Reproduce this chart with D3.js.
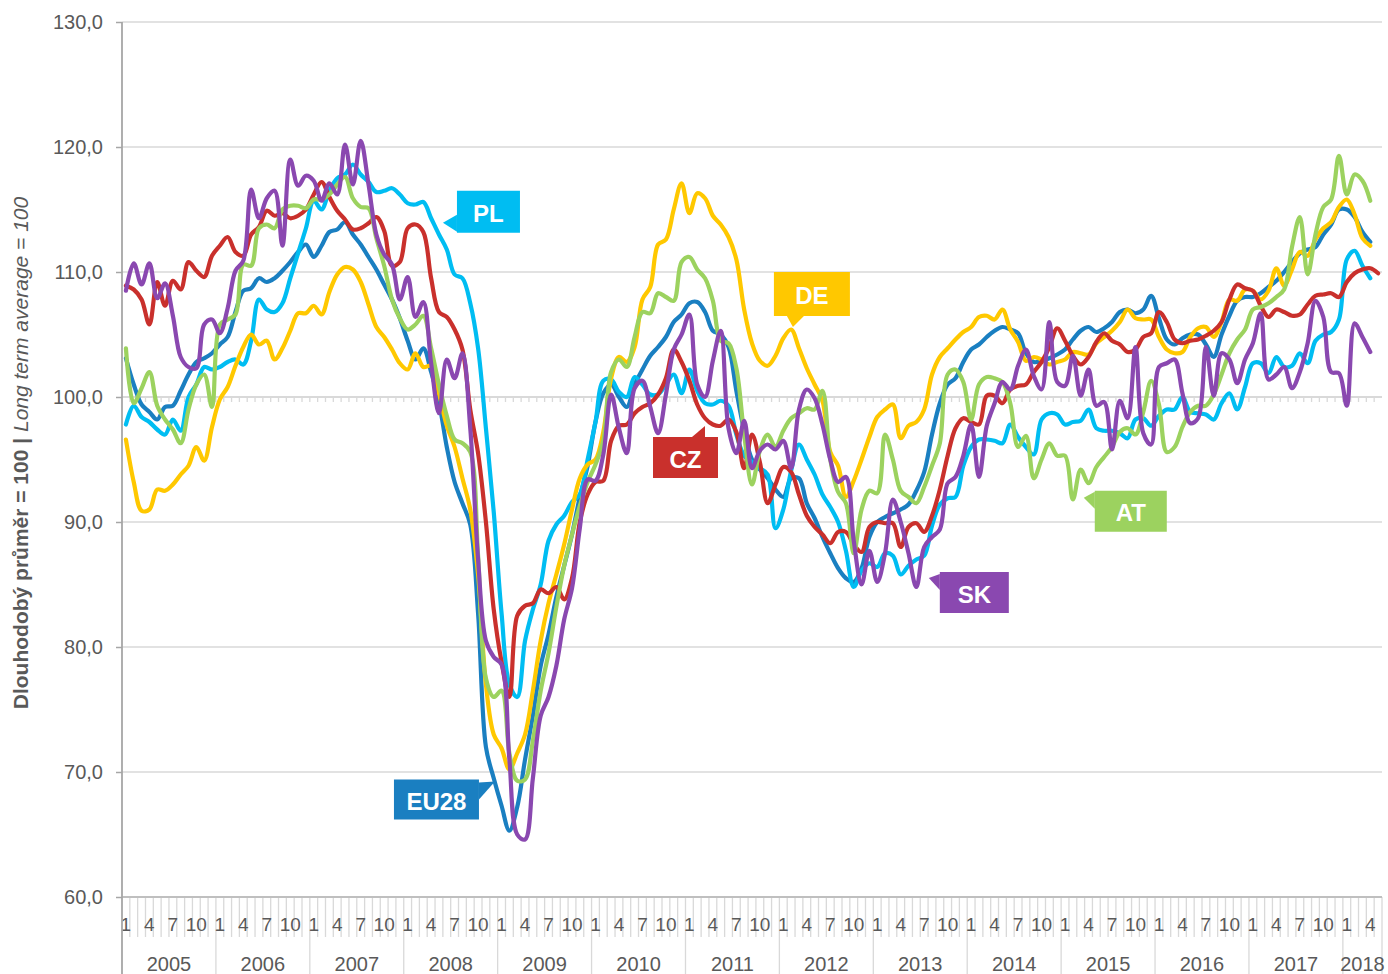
<!DOCTYPE html>
<html>
<head>
    <meta charset="utf-8" />
    <title>Dlouhodobý průměr</title>
    <script src="https://cdn.jsdelivr.net/npm/d3@7"></script>
    <style>
        body { margin: 0; background: #fff; }
        svg { display: block; font-family: "Liberation Sans", Arial, sans-serif; }
    </style>
</head>
<body>
    <svg id="chart" width="1388" height="974"></svg>
    <script>
        // category axis runs Jan 2005 .. May 2018, data Jan 2005 .. Apr 2018 (CZ to May 2018)
        const years = [2005, 2006, 2007, 2008, 2009, 2010, 2011, 2012, 2013, 2014, 2015, 2016, 2017, 2018];
        const lastMonth2018 = 5;
        const monthLabels = [1, 4, 7, 10];
        const yTicks = [60, 70, 80, 90, 100, 110, 120, 130];

        const eu28 = [
            103.1, 101.0, 99.4, 98.8, 98.2, 99.2, 99.3, 100.5, 101.8, 102.8, 103.1, 103.5,
            104.2, 104.8, 106.8, 108.5, 108.7, 109.5, 109.2, 109.5, 110.1, 110.8, 111.6, 112.2,
            111.2, 112.1, 113.2, 113.4, 114.0, 113.0, 112.2, 111.2, 110.2, 109.0, 107.8, 106.3,
            104.5, 103.0, 103.9, 102.0, 99.6, 96.0, 93.2, 91.5, 89.8, 82.7, 72.0, 69.5,
            67.3, 65.3, 67.2, 71.0, 74.5, 78.5, 81.0, 84.0, 86.5, 89.0, 92.0, 94.5,
            98.0, 100.3, 101.0, 100.0, 99.2, 101.0, 102.2, 103.3, 104.0, 104.8, 106.0, 106.6,
            107.5, 107.6, 106.8, 105.3, 105.0, 104.0, 100.5, 97.3, 95.0, 94.2, 93.5, 92.6, 92.0,
            93.5, 93.5, 91.5, 90.3, 88.8, 87.5, 86.3, 85.5, 85.2, 86.3, 88.8, 90.0,
            90.4, 90.7, 91.0, 91.4, 92.5, 94.0, 97.0, 99.5, 101.0, 101.5, 102.8, 103.8,
            104.2, 104.8, 105.3, 105.6, 105.4, 105.1, 103.5, 102.8, 102.9, 103.1, 103.4, 103.8,
            104.6, 105.3, 105.6, 105.2, 105.5, 106.0, 106.8, 107.0, 106.7, 107.0, 108.1, 106.3,
            104.6, 104.2, 104.7, 105.0, 105.0, 104.2, 103.2, 105.0, 106.5, 107.7, 108.0, 108.0,
            108.3, 108.8, 109.3, 110.0, 110.8, 111.5, 111.8, 112.0, 113.0, 113.8, 115.0, 115.0,
            114.4, 113.2, 112.4
        ];
        const pl = [
            97.8, 99.3, 98.4, 98.0, 97.4, 97.0, 98.2, 97.3, 100.0, 101.0, 102.4, 102.2,
            102.4, 102.8, 103.0, 102.6, 104.5, 107.8, 107.0, 106.8, 107.5, 109.5, 111.5, 113.5,
            115.7, 115.0, 116.5, 117.5, 117.8, 118.6, 117.8, 117.2, 116.4, 116.5, 116.7, 116.2,
            115.5, 115.4, 115.6, 114.3, 113.0, 111.8, 109.8, 109.5, 107.5, 103.9, 97.5, 90.8,
            82.7, 77.0, 76.0, 80.5, 83.0, 85.0, 88.5, 89.8, 90.5, 91.6, 92.2, 95.0,
            98.0, 101.3, 101.4, 100.4, 100.0, 101.6, 101.0, 100.2, 100.2, 101.0, 101.8, 100.3,
            102.2, 100.5, 99.5, 99.4, 99.7, 99.3, 97.0, 95.3, 94.8, 94.3, 93.8, 89.5, 91.0,
            94.1, 96.2, 95.0, 93.8, 92.2, 91.2, 90.0, 87.7, 84.8, 86.1, 86.7, 86.4,
            87.5, 87.3, 85.8, 86.5, 87.0, 87.3, 89.7, 91.4, 91.9, 92.0, 94.5, 96.0,
            96.6, 96.6, 96.5, 96.3, 97.8, 96.8, 96.0, 95.4, 98.2, 98.7, 98.6, 97.8,
            98.0, 98.1, 99.0, 97.5, 97.3, 97.3, 97.1, 96.7, 98.2, 98.3, 97.7, 98.5,
            99.0, 99.0, 100.0, 98.8, 98.7, 98.6, 98.2, 99.5, 100.3, 99.0, 100.8, 102.7,
            102.7, 101.9, 103.2, 102.4, 102.5, 103.5, 102.7, 104.5, 105.0, 105.2, 106.2, 111.0,
            111.7, 110.5, 109.5
        ];
        const de = [
            96.6, 93.2, 90.9, 91.0, 92.6, 92.5, 93.0, 93.8, 94.5, 96.0, 94.9, 97.6,
            99.8, 100.8, 102.5, 104.0, 105.0, 104.2, 104.5, 103.0, 103.9, 105.3, 106.7, 106.7,
            107.3, 106.6, 108.4, 109.8, 110.4, 110.2, 109.2, 107.4, 105.6, 104.8, 103.8, 102.7,
            102.2, 103.5, 102.4, 102.5, 100.3, 97.7, 96.0, 93.5, 91.0, 85.8, 77.0, 73.0,
            71.9, 70.2, 71.5, 73.0, 76.5, 80.5, 83.5, 85.8, 88.2, 91.0, 93.5, 94.6,
            95.0, 97.2, 101.5, 103.2, 102.8, 104.0, 107.8, 108.8, 112.2, 112.6, 115.0, 117.1,
            114.7, 116.3, 115.9, 114.5, 113.8, 112.8, 111.0, 107.0, 104.3, 102.9, 102.5, 103.3,
            104.7, 105.4, 103.9, 102.3, 101.0, 99.7, 95.6, 94.5, 92.0, 93.3, 95.0, 96.8,
            98.4, 99.0, 99.4, 96.7, 97.7, 98.0, 99.0, 101.8, 103.2, 103.9, 104.6, 105.2,
            105.6, 106.4, 106.5, 106.2, 107.0, 105.4, 104.4, 102.9, 103.2, 103.0, 102.6, 102.8,
            103.0, 103.6, 103.5, 103.4, 104.3, 104.8, 105.3, 106.0, 107.0, 106.3, 106.2, 106.2,
            104.8, 103.8, 103.5, 103.6, 104.8, 105.5, 105.6, 104.8, 106.0, 107.8, 107.7, 108.6,
            108.5, 107.8, 108.5, 110.3, 108.9, 110.2, 111.6, 111.3, 112.6, 113.5, 114.0, 115.2,
            115.8, 114.6, 112.7, 112.1
        ];
        const cz = [
            108.9, 108.6, 107.8, 105.8, 109.2, 107.3, 109.3, 108.6, 110.8, 110.1, 109.6, 111.3,
            112.1, 112.8, 111.6, 111.3, 113.0, 113.6, 114.9, 114.5, 114.7, 114.3, 114.5, 115.0,
            116.2, 117.2, 116.0, 114.9, 114.2, 113.4, 113.5, 113.9, 114.4, 113.3, 110.5, 110.8,
            113.5, 113.8, 113.2, 109.5, 106.8, 106.4, 105.4, 103.8, 99.0, 95.5, 90.0, 83.0,
            78.8, 76.0, 82.5, 83.3, 83.5, 84.6, 84.3, 84.8, 83.8, 85.5, 90.0, 92.2,
            93.2, 93.3, 96.5, 97.7, 97.8, 98.7, 99.2, 99.5, 100.2, 101.5, 103.8, 102.8,
            101.3, 99.4, 98.3, 97.8, 97.7, 98.2, 97.2, 94.3, 97.0, 94.8, 91.5, 93.0,
            94.4, 94.0, 92.2, 90.5, 89.6, 89.0, 88.3, 89.2, 89.2, 88.2, 87.6, 89.6, 90.0,
            89.9, 89.9, 88.0, 89.6, 89.9, 89.2, 90.5, 92.6, 95.3, 97.5, 98.3, 98.0,
            97.8, 100.1, 100.1, 99.5, 100.6, 100.9, 101.0, 102.0, 102.8, 104.0, 105.5, 104.5,
            103.3, 102.6, 103.2, 104.4, 105.1, 104.5, 104.2, 103.6, 103.8, 104.8, 105.1, 106.8,
            106.0, 104.6, 104.3, 104.5, 104.6, 104.9, 105.3, 106.0, 107.8, 109.0, 108.7, 108.5,
            107.3, 106.4, 107.0, 106.8, 106.5, 106.6, 107.4, 108.1, 108.2, 108.3, 108.0, 109.2,
            109.9, 110.2, 110.3, 109.9
        ];
        const at = [
            103.9, 99.5, 100.7, 102.0, 99.3, 98.2, 97.4, 96.3, 99.0, 101.0, 101.8, 99.2,
            105.8, 106.2, 106.6, 110.6, 110.5, 113.5, 113.8, 113.5, 115.0, 115.3, 115.3, 115.1,
            115.8, 115.8, 116.2, 117.0, 117.6, 115.9, 115.2, 115.1, 112.7, 110.5, 107.8, 106.3,
            105.4, 105.8, 106.5, 103.9, 101.0, 98.5, 96.6, 96.3, 95.6, 87.3, 77.5, 76.0,
            76.5, 71.5, 69.3, 69.4, 72.5, 76.5, 79.5, 83.2, 86.5, 89.0, 91.3, 93.2,
            94.6, 96.5, 102.0, 103.0, 102.4, 104.8, 106.8, 106.7, 108.3, 108.0, 107.7, 110.8,
            111.2, 110.2, 109.5, 107.7, 104.5, 104.3, 102.3, 97.0, 93.0, 95.7, 97.0, 96.0,
            97.3, 98.3, 98.7, 99.1, 99.0, 100.5, 95.0, 92.4, 91.5, 87.5, 91.0, 92.5, 92.3,
            97.0, 95.0, 92.5, 92.0, 91.5, 92.8, 94.5, 96.3, 101.8, 102.2, 101.2, 98.2,
            101.0, 101.6, 101.5, 101.2, 99.5, 96.0, 96.9, 93.5, 95.0, 96.3, 95.3, 95.3,
            91.8, 94.2, 93.1, 94.4, 95.2, 96.0, 97.2, 97.5, 97.0, 98.8, 101.3, 99.4,
            95.6, 96.0, 97.6, 98.8, 99.3, 99.3, 100.2, 101.8, 103.5, 104.6, 105.4, 107.0,
            107.2, 107.5, 108.0, 108.6, 112.0, 114.4, 109.8, 113.0, 115.2, 115.8, 119.3, 116.2,
            117.8, 117.3, 115.7
        ];
        const sk = [
            108.5, 110.7, 109.0, 110.7, 107.9, 109.1, 106.5, 103.2, 102.4, 102.3, 105.8, 106.2,
            105.1, 107.1, 110.1, 110.9, 116.6, 114.3, 115.9, 116.5, 112.1, 119.0, 116.9, 117.7,
            117.3, 115.7, 117.1, 116.2, 120.2, 117.0, 120.5, 117.0, 113.0, 111.4, 110.6, 107.8,
            109.6, 106.4, 107.6, 102.7, 98.7, 103.0, 101.5, 103.5, 97.5, 87.0, 80.5, 79.2,
            78.6, 71.0, 65.0, 64.6, 69.5, 74.5, 76.0, 78.5, 82.2, 84.7, 89.5, 93.4,
            93.3, 95.4, 100.2, 97.5, 95.5, 100.7, 101.3, 99.2, 97.1, 100.2, 103.8, 105.0,
            106.6, 101.0, 100.0, 102.9, 105.3, 97.5, 95.5, 98.1, 94.3, 95.7, 96.2, 95.8,
            96.5, 94.3, 99.0, 100.6, 99.9, 97.8, 95.0, 93.2, 93.6, 88.5, 85.0, 87.7, 85.2,
            87.5, 91.8, 90.0, 87.5, 84.8, 88.0, 88.8, 89.4, 93.1, 93.6, 95.3, 97.8,
            93.6, 97.7, 99.5, 101.2, 100.6, 102.5, 103.8, 101.7, 100.6, 106.0, 101.2, 100.9,
            103.3, 100.1, 102.2, 99.3, 99.6, 95.8, 99.7, 98.3, 104.0, 97.1, 96.2, 102.4,
            102.7, 103.0, 100.3, 97.9, 98.3, 104.0, 100.1, 103.5, 103.0, 101.1, 103.0, 104.3,
            106.7, 101.4, 101.8, 102.4, 100.7, 102.0, 104.3, 107.7, 106.4, 102.0, 101.9, 99.3,
            105.9, 104.8, 103.6
        ];

        const series = [
            { key: 'EU28', values: eu28, color: '#1a7fc1' },
            { key: 'PL', values: pl, color: '#00bdf2' },
            { key: 'DE', values: de, color: '#ffc800' },
            { key: 'CZ', values: cz, color: '#c9302c' },
            { key: 'AT', values: at, color: '#9cd25f' },
            { key: 'SK', values: sk, color: '#8a48b0' }
        ];

        // callout boxes: top-left corner given in (month index, value), pointer in px relative to the box
        const callouts = [
            { key: 'PL', m: 42.8, v: 116.5, w: 63, h: 42, ptr: [[0, 24], [0, 41], [-14, 32]] },
            { key: 'DE', m: 83.3, v: 110.0, w: 76, h: 44, ptr: [[13, 44], [30, 44], [19, 55]] },
            { key: 'CZ', m: 67.85, v: 96.8, w: 65, h: 41, ptr: [[39, 0], [52, 0], [52, -11]] },
            { key: 'AT', m: 124.3, v: 92.5, w: 72, h: 41, ptr: [[0, 1], [0, 18], [-11, 7]] },
            { key: 'SK', m: 104.5, v: 86.0, w: 69, h: 41, ptr: [[0, 2], [0, 18], [-11, 6]] },
            { key: 'EU28', m: 34.75, v: 69.4, w: 85, h: 40, ptr: [[85, 3], [85, 20], [101, 2]] }
        ];

        const months = [];
        years.forEach(yr => {
            const n = yr === 2018 ? lastMonth2018 : 12;
            for (let m = 1; m <= n; m++) months.push({ year: yr, month: m });
        });

        const plotLeft = 122, plotRight = 1382, plotTop = 22, plotBottom = 897;
        const svg = d3.select('#chart');

        const x = d3.scaleBand().domain(d3.range(months.length)).range([plotLeft, plotRight]);
        const y = d3.scaleLinear().domain([60, 130]).range([plotBottom, plotTop]);
        const cx = i => x(i) + x.bandwidth() / 2;
        const edge = k => plotLeft + k * x.step();
        const color = d3.scaleOrdinal().domain(series.map(s => s.key)).range(series.map(s => s.color));

        // gridlines
        svg.append('g')
            .selectAll('line')
            .data(yTicks.filter(d => d > 60))
            .enter().append('line')
            .attr('x1', plotLeft).attr('x2', plotRight)
            .attr('y1', d => y(d)).attr('y2', d => y(d))
            .style('stroke', '#d9d9d9')
            .style('stroke-width', d => d === 100 ? 2.2 : 1.5);

        // small month ticks under the 100 line
        svg.append('g')
            .selectAll('line')
            .data(d3.range(1, months.length))
            .enter().append('line')
            .attr('x1', d => edge(d)).attr('x2', d => edge(d))
            .attr('y1', y(100)).attr('y2', y(100) + 5)
            .style('stroke', '#d9d9d9')
            .style('stroke-width', 1.3);

        // category axis: month ticks and year separators
        svg.append('g')
            .selectAll('line')
            .data(d3.range(1, months.length + 1))
            .enter().append('line')
            .attr('x1', d => edge(d)).attr('x2', d => edge(d))
            .attr('y1', plotBottom)
            .attr('y2', d => (d % 12 === 0 || d === months.length) ? 974 : 937)
            .style('stroke', '#d9d9d9')
            .style('stroke-width', 1.3);

        svg.append('line')
            .attr('x1', plotLeft).attr('x2', plotRight)
            .attr('y1', plotBottom).attr('y2', plotBottom)
            .style('stroke', '#bfbfbf')
            .style('stroke-width', 1.8);

        svg.append('g')
            .selectAll('text')
            .data(months.map((d, i) => ({ ...d, i })).filter(d => monthLabels.includes(d.month)))
            .enter().append('text')
            .attr('x', d => cx(d.i))
            .attr('y', 931)
            .attr('text-anchor', 'middle')
            .style('font-size', '19px')
            .style('fill', '#595959')
            .text(d => d.month);

        svg.append('g')
            .selectAll('text')
            .data(years)
            .enter().append('text')
            .attr('x', yr => {
                const first = months.findIndex(d => d.year === yr);
                const n = months.filter(d => d.year === yr).length;
                return (edge(first) + edge(first + n)) / 2;
            })
            .attr('y', 971)
            .attr('text-anchor', 'middle')
            .style('font-size', '20px')
            .style('fill', '#595959')
            .text(yr => yr);

        // value axis
        const yAxis = svg.append('g')
            .attr('transform', `translate(${plotLeft},0)`)
            .call(d3.axisLeft(y).tickValues(yTicks).tickSize(6).tickSizeOuter(0).tickPadding(13)
                .tickFormat(d => d.toFixed(1).replace('.', ',')));
        yAxis.select('.domain').remove();
        yAxis.selectAll('line').style('stroke', '#a6a6a6').style('stroke-width', 1.5);
        yAxis.selectAll('text')
            .style('font-family', '"Liberation Sans", Arial, sans-serif')
            .style('font-size', '20px')
            .style('fill', '#595959');
        svg.append('line')
            .attr('x1', plotLeft).attr('x2', plotLeft)
            .attr('y1', plotTop).attr('y2', 974)
            .style('stroke', '#a6a6a6')
            .style('stroke-width', 1.8);

        const title = svg.append('text')
            .attr('transform', 'translate(28,453) rotate(-90)')
            .attr('text-anchor', 'middle')
            .style('font-size', '21px')
            .style('fill', '#595959');
        title.append('tspan').style('font-weight', 'bold').text('Dlouhodobý průměr = 100 | ');
        title.append('tspan').style('font-style', 'italic').text('Long term average = 100');

        // lines
        const line = d3.line()
            .x((d, i) => cx(i))
            .y(d => y(d))
            .curve(d3.curveCatmullRom.alpha(0.5));

        svg.append('g')
            .selectAll('path')
            .data(series)
            .enter().append('path')
            .attr('d', d => line(d.values))
            .style('fill', 'none')
            .style('stroke', d => d.color)
            .style('stroke-width', 4.2)
            .style('stroke-linejoin', 'round')
            .style('stroke-linecap', 'round');

        // callouts
        const tag = svg.append('g')
            .selectAll('g')
            .data(callouts)
            .enter().append('g')
            .attr('transform', d => `translate(${edge(d.m)},${y(d.v)})`);
        tag.append('path')
            .attr('d', d => 'M' + d.ptr.map(p => p.join(',')).join('L') + 'Z')
            .style('fill', d => color(d.key));
        tag.append('rect')
            .attr('width', d => d.w)
            .attr('height', d => d.h)
            .style('fill', d => color(d.key));
        tag.append('text')
            .attr('x', d => d.w / 2)
            .attr('y', d => d.h / 2)
            .attr('dy', '0.42em')
            .attr('text-anchor', 'middle')
            .style('font-size', '24px')
            .style('font-weight', 'bold')
            .style('fill', '#fff')
            .text(d => d.key);
    </script>
</body>
</html>
